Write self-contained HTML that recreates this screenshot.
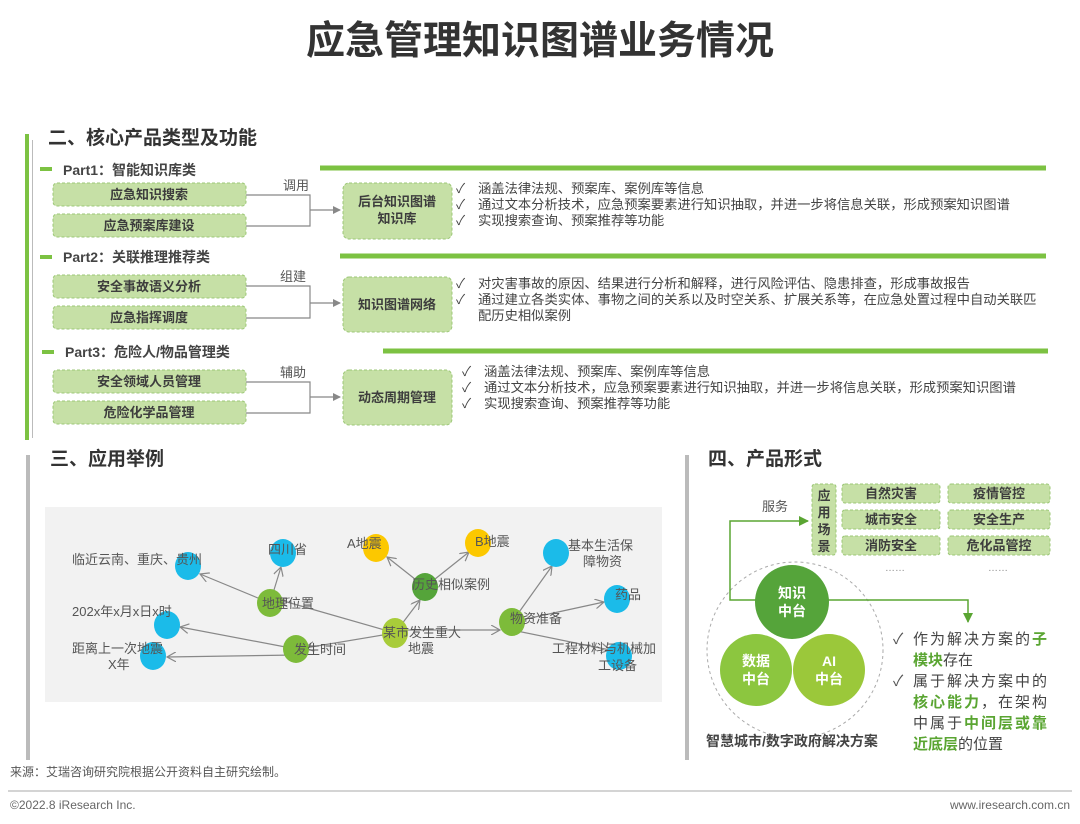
<!DOCTYPE html>
<html><head><meta charset="utf-8"><style>
body{margin:0;background:#fff}
svg{display:block}
text{font-family:"Liberation Sans","Noto Sans CJK SC",sans-serif;fill:#333}
.b{font-weight:bold}
.box{fill:#c6e0a6;stroke:#9cc777;stroke-dasharray:3 2;stroke-width:1}
.bt{font-size:13px;font-weight:bold;fill:#3d3d3d;text-anchor:middle}
.bl{font-size:13.3px;fill:#444}
.con{fill:none;stroke:#888;stroke-width:1.2}
.gl{stroke:#7cc242;stroke-width:5}
.edge{stroke:#888;stroke-width:1.2;fill:none;marker-end:url(#ga)}
.nl{font-size:13px;fill:#555}
</style></head><body>
<svg width="1080" height="824" viewBox="0 0 1080 824">
<defs>
<marker id="ah" markerWidth="8" markerHeight="8" refX="7" refY="4" orient="auto" markerUnits="userSpaceOnUse"><path d="M0,0 L8,4 L0,8z" fill="#888"/></marker>
<marker id="ga" markerWidth="10" markerHeight="10" refX="9" refY="5" orient="auto" markerUnits="userSpaceOnUse"><path d="M0,0 L9,5 L0,10" fill="none" stroke="#888" stroke-width="1.2"/></marker>
<marker id="gr" markerWidth="10" markerHeight="10" refX="9" refY="5" orient="auto" markerUnits="userSpaceOnUse"><path d="M0,0 L10,5 L0,10z" fill="#5aa532"/></marker>
</defs>
<text x="540" y="54" text-anchor="middle" class="b" style="font-size:39px;fill:#333">应急管理知识图谱业务情况</text>

<!-- section 2 -->
<rect x="25" y="134" width="4" height="306" fill="#7cc242"/>
<rect x="32" y="140" width="1" height="298" fill="#bbb"/>
<text x="48" y="144" class="b" style="font-size:19px">二、核心产品类型及功能</text>

<rect x="40" y="167" width="12" height="4" fill="#7cc242"/>
<text x="63" y="175" class="b" style="font-size:14px;fill:#444">Part1：智能知识库类</text>
<line x1="320" y1="168" x2="1046" y2="168" class="gl"/>
<rect x="53" y="183" width="193" height="23" rx="4" class="box"/><text x="149" y="199" class="bt">应急知识搜索</text>
<rect x="53" y="214" width="193" height="23" rx="4" class="box"/><text x="149" y="230" class="bt">应急预案库建设</text>
<path d="M246,195 H310 V226 H246 M310,210 H340" class="con" marker-end="url(#ah)"/>
<text x="283" y="190" style="font-size:13px;fill:#555">调用</text>
<rect x="343" y="183" width="109" height="56" rx="6" class="box"/><text x="397" y="206" class="bt">后台知识图谱</text><text x="397" y="223" class="bt">知识库</text>
<text x="456" y="193" class="bl">✓</text><text x="478" y="193" class="bl">涵盖法律法规、预案库、案例库等信息</text>
<text x="456" y="209" class="bl">✓</text><text x="478" y="209" class="bl">通过文本分析技术，应急预案要素进行知识抽取，并进一步将信息关联，形成预案知识图谱</text>
<text x="456" y="225" class="bl">✓</text><text x="478" y="225" class="bl">实现搜索查询、预案推荐等功能</text>

<rect x="40" y="255" width="12" height="4" fill="#7cc242"/>
<text x="63" y="262" class="b" style="font-size:14px;fill:#444">Part2：关联推理推荐类</text>
<line x1="340" y1="256" x2="1046" y2="256" class="gl"/>
<rect x="53" y="275" width="193" height="23" rx="4" class="box"/><text x="149" y="291" class="bt">安全事故语义分析</text>
<rect x="53" y="306" width="193" height="23" rx="4" class="box"/><text x="149" y="322" class="bt">应急指挥调度</text>
<path d="M246,286 H310 V318 H246 M310,303 H340" class="con" marker-end="url(#ah)"/>
<text x="280" y="281" style="font-size:13px;fill:#555">组建</text>
<rect x="343" y="277" width="109" height="55" rx="6" class="box"/><text x="397" y="309" class="bt">知识图谱网络</text>
<text x="456" y="288" class="bl">✓</text><text x="478" y="288" class="bl">对灾害事故的原因、结果进行分析和解释，进行风险评估、隐患排查，形成事故报告</text>
<text x="456" y="304" class="bl">✓</text><text x="478" y="304" class="bl">通过建立各类实体、事物之间的关系以及时空关系、扩展关系等，在应急处置过程中自动关联匹</text>
<text x="478" y="320" class="bl">配历史相似案例</text>

<rect x="42" y="350" width="12" height="4" fill="#7cc242"/>
<text x="65" y="357" class="b" style="font-size:14px;fill:#444">Part3：危险人/物品管理类</text>
<line x1="383" y1="351" x2="1048" y2="351" class="gl"/>
<rect x="53" y="370" width="193" height="23" rx="4" class="box"/><text x="149" y="386" class="bt">安全领域人员管理</text>
<rect x="53" y="401" width="193" height="23" rx="4" class="box"/><text x="149" y="417" class="bt">危险化学品管理</text>
<path d="M246,382 H310 V413 H246 M310,397 H340" class="con" marker-end="url(#ah)"/>
<text x="280" y="377" style="font-size:13px;fill:#555">辅助</text>
<rect x="343" y="370" width="109" height="55" rx="6" class="box"/><text x="397" y="402" class="bt">动态周期管理</text>
<text x="462" y="376" class="bl">✓</text><text x="484" y="376" class="bl">涵盖法律法规、预案库、案例库等信息</text>
<text x="462" y="392" class="bl">✓</text><text x="484" y="392" class="bl">通过文本分析技术，应急预案要素进行知识抽取，并进一步将信息关联，形成预案知识图谱</text>
<text x="462" y="408" class="bl">✓</text><text x="484" y="408" class="bl">实现搜索查询、预案推荐等功能</text>

<!-- section 3 -->
<rect x="26" y="455" width="4" height="305" fill="#bbb"/>
<text x="50" y="465" class="b" style="font-size:19px">三、应用举例</text>
<rect x="45" y="507" width="617" height="195" fill="#f2f2f2"/>
<g>
<line x1="395" y1="633" x2="280" y2="600" class="edge"/>
<line x1="270" y1="603" x2="200" y2="574" class="edge"/>
<line x1="270" y1="603" x2="281" y2="567" class="edge"/>
<line x1="395" y1="633" x2="305" y2="648" class="edge"/>
<line x1="296" y1="649" x2="180" y2="627" class="edge"/>
<line x1="296" y1="655" x2="167" y2="657" class="edge"/>
<line x1="395" y1="633" x2="420" y2="600" class="edge"/>
<line x1="425" y1="587" x2="387" y2="557" class="edge"/>
<line x1="425" y1="587" x2="469" y2="552" class="edge"/>
<line x1="395" y1="630" x2="500" y2="630" class="edge"/>
<line x1="512" y1="622" x2="552" y2="566" class="edge"/>
<line x1="512" y1="622" x2="604" y2="602" class="edge"/>
<line x1="512" y1="630" x2="610" y2="650" class="edge"/>
</g>
<ellipse cx="188" cy="566" rx="13" ry="14" fill="#1bbbe9"/>
<ellipse cx="283" cy="553" rx="13" ry="14" fill="#1bbbe9"/>
<ellipse cx="167" cy="625" rx="13" ry="14" fill="#1bbbe9"/>
<ellipse cx="153" cy="656" rx="13" ry="14" fill="#1bbbe9"/>
<ellipse cx="556" cy="553" rx="13" ry="14" fill="#1bbbe9"/>
<ellipse cx="617" cy="599" rx="13" ry="14" fill="#1bbbe9"/>
<ellipse cx="619" cy="656" rx="13" ry="14" fill="#1bbbe9"/>
<ellipse cx="376" cy="548" rx="13" ry="14" fill="#fcc800"/>
<ellipse cx="478" cy="543" rx="13" ry="14" fill="#fcc800"/>
<ellipse cx="270" cy="603" rx="13" ry="14" fill="#7dbb3a"/>
<ellipse cx="296" cy="649" rx="13" ry="14" fill="#7dbb3a"/>
<ellipse cx="512" cy="622" rx="13" ry="14" fill="#7dbb3a"/>
<ellipse cx="425" cy="587" rx="13" ry="14" fill="#55a43a"/>
<ellipse cx="395" cy="633" rx="13" ry="15" fill="#a8cc3a"/>
<text x="72" y="564" class="nl">临近云南、重庆、贵州</text>
<text x="268" y="554" class="nl">四川省</text>
<text x="262" y="608" class="nl">地理位置</text>
<text x="72" y="616" class="nl">202x年x月x日x时</text>
<text x="72" y="653" class="nl">距离上一次地震</text>
<text x="108" y="669" class="nl">X年</text>
<text x="294" y="654" class="nl">发生时间</text>
<text x="383" y="637" class="nl">某市发生重大</text>
<text x="408" y="653" class="nl">地震</text>
<text x="412" y="589" class="nl">历史相似案例</text>
<text x="347" y="548" class="nl">A地震</text>
<text x="475" y="546" class="nl">B地震</text>
<text x="510" y="623" class="nl">物资准备</text>
<text x="568" y="550" class="nl">基本生活保</text>
<text x="583" y="566" class="nl">障物资</text>
<text x="615" y="599" class="nl">药品</text>
<text x="552" y="653" class="nl">工程材料与机械加</text>
<text x="598" y="670" class="nl">工设备</text>

<!-- section 4 -->
<rect x="685" y="455" width="4" height="305" fill="#bbb"/>
<text x="708" y="465" class="b" style="font-size:19px">四、产品形式</text>
<rect x="812" y="484" width="24" height="71" rx="3" class="box"/>
<text x="824" y="500" class="bt">应</text><text x="824" y="517" class="bt">用</text><text x="824" y="534" class="bt">场</text><text x="824" y="551" class="bt">景</text>
<rect x="842" y="484" width="98" height="19" rx="3" class="box"/><text x="891" y="498" class="bt">自然灾害</text>
<rect x="948" y="484" width="102" height="19" rx="3" class="box"/><text x="999" y="498" class="bt">疫情管控</text>
<rect x="842" y="510" width="98" height="19" rx="3" class="box"/><text x="891" y="524" class="bt">城市安全</text>
<rect x="948" y="510" width="102" height="19" rx="3" class="box"/><text x="999" y="524" class="bt">安全生产</text>
<rect x="842" y="536" width="98" height="19" rx="3" class="box"/><text x="891" y="550" class="bt">消防安全</text>
<rect x="948" y="536" width="102" height="19" rx="3" class="box"/><text x="999" y="550" class="bt">危化品管控</text>
<text x="895" y="571" text-anchor="middle" style="font-size:10px;fill:#888">……</text>
<text x="998" y="571" text-anchor="middle" style="font-size:10px;fill:#888">……</text>
<text x="762" y="511" style="font-size:13px;fill:#555">服务</text>
<circle cx="795" cy="650" r="88" fill="none" stroke="#aaa" stroke-dasharray="3 3"/>
<path d="M792,600 H730 V521 H808" fill="none" stroke="#5aa532" stroke-width="1.5" marker-end="url(#gr)"/>
<path d="M792,600 H968 V622" fill="none" stroke="#5aa532" stroke-width="1.5" marker-end="url(#gr)"/>
<circle cx="792" cy="602" r="37" fill="#55a43a"/>
<circle cx="756" cy="670" r="36" fill="#8cc63f"/>
<circle cx="829" cy="670" r="36" fill="#9bc83a"/>
<text x="792" y="598" class="b" text-anchor="middle" style="font-size:14px;fill:#fff">知识</text>
<text x="792" y="616" class="b" text-anchor="middle" style="font-size:14px;fill:#fff">中台</text>
<text x="756" y="666" class="b" text-anchor="middle" style="font-size:14px;fill:#fff">数据</text>
<text x="756" y="684" class="b" text-anchor="middle" style="font-size:14px;fill:#fff">中台</text>
<text x="829" y="666" class="b" text-anchor="middle" style="font-size:14px;fill:#fff">AI</text>
<text x="829" y="684" class="b" text-anchor="middle" style="font-size:14px;fill:#fff">中台</text>
<g style="font-size:15px">
<text x="893" y="644" style="fill:#555">✓</text>
<text x="913" y="644" style="fill:#444;letter-spacing:2px">作为解决方案的<tspan class="b" style="fill:#5aa532">子</tspan></text>
<text x="913" y="665" style="fill:#444"><tspan class="b" style="fill:#5aa532">模块</tspan>存在</text>
<text x="893" y="686" style="fill:#555">✓</text>
<text x="913" y="686" style="fill:#444;letter-spacing:2px">属于解决方案中的</text>
<text x="913" y="707" style="fill:#444;letter-spacing:2px"><tspan class="b" style="fill:#5aa532">核心能力</tspan>，在架构</text>
<text x="913" y="728" style="fill:#444;letter-spacing:2px">中属于<tspan class="b" style="fill:#5aa532">中间层或靠</tspan></text>
<text x="913" y="749" style="fill:#444"><tspan class="b" style="fill:#5aa532">近底层</tspan>的位置</text>
</g>
<text x="706" y="746" class="b" style="font-size:14px;fill:#444">智慧城市/数字政府解决方案</text>

<!-- footer -->
<text x="10" y="776" style="font-size:12px;fill:#555">来源：艾瑞咨询研究院根据公开资料自主研究绘制。</text>
<line x1="8" y1="791" x2="1072" y2="791" stroke="#aaa" stroke-width="1"/>
<text x="10" y="809" style="font-size:12px;fill:#666">©2022.8 iResearch Inc.</text>
<text x="1070" y="809" text-anchor="end" style="font-size:12px;fill:#666">www.iresearch.com.cn</text>
</svg>
</body></html>
